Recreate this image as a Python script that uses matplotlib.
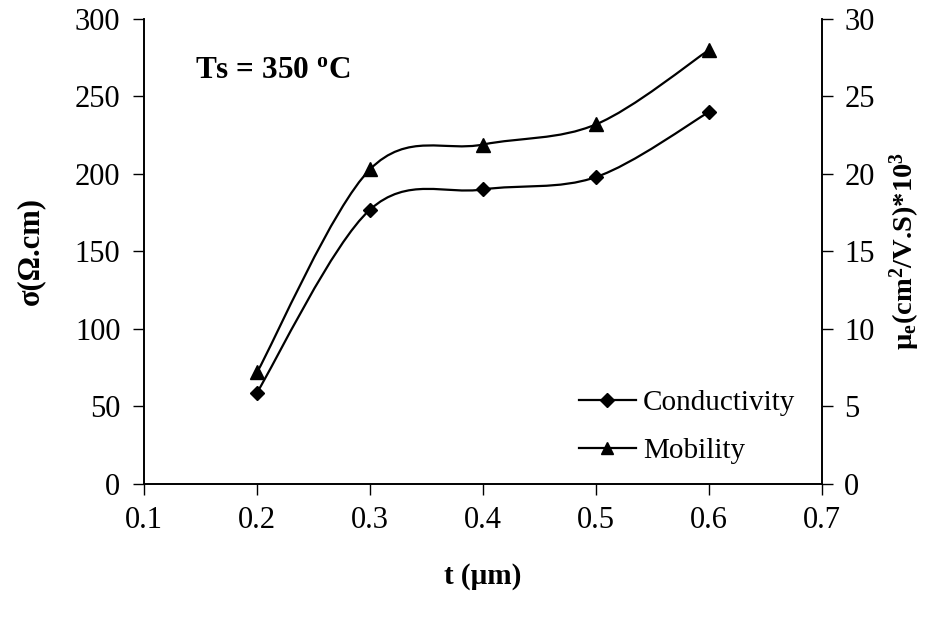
import matplotlib
matplotlib.use("Agg")
import matplotlib.pyplot as plt
from matplotlib.path import Path
from matplotlib.patches import PathPatch
from matplotlib.lines import Line2D

plt.rcParams["font.family"] = "Liberation Serif"
plt.rcParams["mathtext.fontset"] = "custom"
plt.rcParams["mathtext.rm"] = "Liberation Serif"
plt.rcParams["mathtext.it"] = "Liberation Serif:italic"
plt.rcParams["mathtext.bf"] = "Liberation Serif:bold"

# film thickness (um), conductivity and electron mobility
t = [0.2, 0.3, 0.4, 0.5, 0.6]
conductivity = [59, 177, 190, 198, 240]
mobility = [7.2, 20.3, 21.9, 23.2, 28.0]

x_ticks = [0.1, 0.2, 0.3, 0.4, 0.5, 0.6, 0.7]
left_ticks = [0, 50, 100, 150, 200, 250, 300]
right_ticks = [0, 5, 10, 15, 20, 25, 30]


def smooth_path(x, y):
    # cubic bezier through the points, tangents as in a Catmull-Rom spline
    verts = [(x[0], y[0])]
    codes = [Path.MOVETO]
    n = len(x)
    for i in range(n - 1):
        i0 = max(i - 1, 0)
        i3 = min(i + 2, n - 1)
        c1 = (x[i] + (x[i + 1] - x[i0]) / 6, y[i] + (y[i + 1] - y[i0]) / 6)
        c2 = (x[i + 1] - (x[i3] - x[i]) / 6, y[i + 1] - (y[i3] - y[i]) / 6)
        verts += [c1, c2, (x[i + 1], y[i + 1])]
        codes += [Path.CURVE4] * 3
    return Path(verts, codes)


fig = plt.figure(figsize=(9.42, 6.22), dpi=100)
ax = fig.add_axes([0.1529, 0.2219, 0.7197, 0.7476])
ax2 = ax.twinx()

lw = 1.6
ax.add_patch(PathPatch(smooth_path(t, conductivity), fill=False, lw=lw,
                       edgecolor="black", transform=ax.transData))
ax.plot(t, conductivity, ls="none", marker="D", ms=7.5, color="black")

ax2.add_patch(PathPatch(smooth_path(t, mobility), fill=False, lw=lw,
                        edgecolor="black", transform=ax2.transData))
ax2.plot(t, mobility, ls="none", marker="^", ms=10, color="black")

ax.set_xlim(0.1, 0.7)
ax.set_ylim(0, 300)
ax2.set_ylim(0, 30)
ax.set_xticks(x_ticks)
ax.set_xticklabels([f"{v:g}" for v in x_ticks])
ax.set_yticks(left_ticks)
ax2.set_yticks(right_ticks)

for a in (ax, ax2):
    a.spines["top"].set_visible(False)
    for s in a.spines.values():
        s.set_linewidth(1.2)
ax.tick_params(axis="x", direction="out", length=8, width=1, pad=8, labelsize=22)
ax.tick_params(axis="y", direction="out", length=8, width=1, pad=9, labelsize=22)
ax2.tick_params(axis="y", direction="out", length=8, width=1, pad=8, labelsize=22)

ax.set_xlabel("t (µm)", fontsize=21, fontweight="bold")
ax.xaxis.set_label_coords(0.5, -0.20)
ax.xaxis.label.set_va("center")
ax.set_ylabel("σ(Ω.cm)", fontsize=22, fontweight="bold")
ax.yaxis.set_label_coords(-0.168, 0.5)
ax.yaxis.label.set_va("center")
ax2.set_ylabel(r"µ$_{\mathbf{e}}$(cm$^{\mathbf{2}}$/V.S)*10$^{\mathbf{3}}$",
               fontsize=20.5, fontweight="bold", rotation=90)
ax2.yaxis.set_label_coords(1.122, 0.5)
ax2.yaxis.label.set_va("center")

ax.text(0.075, 0.89, r"Ts = 350 $^{\mathbf{o}}$C", transform=ax.transAxes,
        fontsize=22.5, fontweight="bold", va="center", ha="left")

handles = [
    Line2D([], [], color="black", lw=lw, marker="D", ms=7),
    Line2D([], [], color="black", lw=lw, marker="^", ms=9),
]
ax2.legend(handles, ["Conductivity", "Mobility"], loc="center left",
           bbox_to_anchor=(0.624, 0.123), frameon=False, fontsize=21,
           handlelength=1.95, handletextpad=0.25, labelspacing=0.75,
           borderaxespad=0)

fig.savefig("out.png", dpi=100)
